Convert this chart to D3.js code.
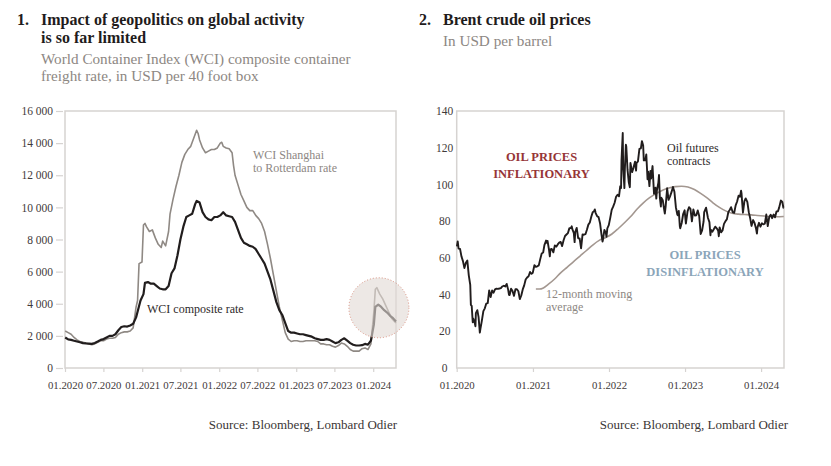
<!DOCTYPE html>
<html>
<head>
<meta charset="utf-8">
<script src="https://cdn.jsdelivr.net/npm/d3@7"></script>
<style>
  html, body { margin: 0; padding: 0; background: #ffffff; }
  svg { display: block; font-family: "Liberation Serif", "DejaVu Serif", serif; }
</style>
</head>
<body>
<svg id="chart" width="831" height="466"></svg>
<script>
// ---------------- DATA ----------------
const wciTicks = [0, 2000, 4000, 6000, 8000, 10000, 12000, 14000, 16000];
const wciDateTicks = ["2020-01-01","2020-07-01","2021-01-01","2021-07-01","2022-01-01","2022-07-01","2023-01-01","2023-07-01","2024-01-01"];
const wciDateLabels = ["01.2020","07.2020","01.2021","07.2021","01.2022","07.2022","01.2023","07.2023","01.2024"];

const wciComposite = [
["2020-01-02",1900],["2020-01-16",1780],["2020-01-30",1750],["2020-02-13",1700],["2020-02-27",1650],
["2020-03-12",1600],["2020-03-26",1550],["2020-04-09",1530],["2020-04-23",1520],["2020-05-07",1500],
["2020-05-21",1560],["2020-06-04",1650],["2020-06-18",1750],["2020-07-02",1800],["2020-07-16",1900],
["2020-07-30",2000],["2020-08-13",2000],["2020-08-27",2100],["2020-09-10",2350],["2020-09-24",2550],
["2020-10-08",2600],["2020-10-22",2580],["2020-11-05",2650],["2020-11-19",2750],["2020-12-03",3150],
["2020-12-10",3500],["2020-12-24",4200],["2021-01-07",4600],["2021-01-14",5300],["2021-01-28",5350],
["2021-02-11",5250],["2021-02-25",5250],["2021-03-11",5100],["2021-03-25",4950],["2021-04-08",4900],
["2021-04-22",4900],["2021-05-06",5100],["2021-05-20",5900],["2021-06-03",6200],["2021-06-17",7000],
["2021-07-01",8000],["2021-07-15",8800],["2021-07-29",9400],["2021-08-12",9500],["2021-08-26",9600],
["2021-09-09",10200],["2021-09-16",10400],["2021-09-30",10300],["2021-10-14",9700],["2021-10-28",9400],
["2021-11-11",9250],["2021-11-25",9200],["2021-12-09",9400],["2021-12-23",9400],["2022-01-06",9500],
["2022-01-20",9700],["2022-02-03",9500],["2022-02-17",9450],["2022-03-03",9400],["2022-03-17",9100],
["2022-03-31",8600],["2022-04-14",8100],["2022-04-28",7800],["2022-05-12",7700],["2022-05-26",7600],
["2022-06-09",7550],["2022-06-23",7400],["2022-07-07",7100],["2022-07-21",6800],["2022-08-04",6500],
["2022-08-18",6000],["2022-09-01",5500],["2022-09-15",4800],["2022-09-29",4100],["2022-10-13",3600],
["2022-10-27",3300],["2022-11-10",2800],["2022-11-24",2300],["2022-12-08",2200],["2022-12-22",2200],
["2023-01-05",2150],["2023-01-19",2100],["2023-02-02",2100],["2023-02-16",2050],["2023-03-02",2000],
["2023-03-16",1950],["2023-03-30",1850],["2023-04-13",1800],["2023-04-27",1750],["2023-05-11",1750],
["2023-05-25",1800],["2023-06-08",1750],["2023-06-22",1650],["2023-07-06",1550],["2023-07-20",1600],
["2023-08-03",1750],["2023-08-17",1850],["2023-08-31",1700],["2023-09-14",1550],["2023-09-28",1450],
["2023-10-12",1400],["2023-10-26",1400],["2023-11-09",1420],["2023-11-23",1500],["2023-12-07",1450],
["2023-12-21",1700],["2024-01-04",2700],["2024-01-11",3800],["2024-01-25",3950],["2024-02-08",3800],
["2024-02-22",3600],["2024-03-07",3450],["2024-03-21",3250],["2024-04-04",3100],["2024-04-18",2900]
];

const wciShanghai = [
["2020-01-02",2300],["2020-01-16",2200],["2020-01-30",2100],["2020-02-13",1900],["2020-02-27",1750],
["2020-03-12",1650],["2020-03-26",1600],["2020-04-09",1550],["2020-04-23",1500],["2020-05-07",1450],
["2020-05-21",1500],["2020-06-04",1600],["2020-06-18",1700],["2020-07-02",1700],["2020-07-16",1800],
["2020-07-30",1850],["2020-08-13",1850],["2020-08-27",1900],["2020-09-10",2100],["2020-09-24",2200],
["2020-10-08",2250],["2020-10-22",2250],["2020-11-05",2300],["2020-11-19",2500],["2020-12-03",3800],
["2020-12-10",4200],["2020-12-17",6500],["2020-12-31",6600],["2021-01-07",8900],["2021-01-14",9000],
["2021-01-21",8800],["2021-02-04",8500],["2021-02-18",8600],["2021-03-04",8100],["2021-03-18",7700],
["2021-04-01",7500],["2021-04-08",7900],["2021-04-22",7600],["2021-05-06",8500],["2021-05-13",9600],
["2021-05-27",10500],["2021-06-10",11300],["2021-06-24",12000],["2021-07-08",12800],["2021-07-22",13300],
["2021-08-05",13600],["2021-08-19",13800],["2021-09-02",14300],["2021-09-16",14800],["2021-09-23",14600],
["2021-09-30",14200],["2021-10-14",13700],["2021-10-28",13400],["2021-11-11",13500],["2021-11-25",13600],
["2021-12-09",13600],["2021-12-23",13700],["2022-01-06",14000],["2022-01-13",14050],["2022-01-20",13800],
["2022-02-03",13700],["2022-02-17",13650],["2022-03-03",13400],["2022-03-10",12600],["2022-03-17",12000],
["2022-03-31",11400],["2022-04-14",10800],["2022-04-28",10400],["2022-05-12",10000],["2022-05-26",9800],
["2022-06-09",9800],["2022-06-23",9500],["2022-07-07",9300],["2022-07-21",9000],["2022-08-04",8500],
["2022-08-18",7700],["2022-09-01",6800],["2022-09-15",5800],["2022-09-29",4800],["2022-10-13",3800],
["2022-10-27",3000],["2022-11-10",2200],["2022-11-24",1800],["2022-12-08",1650],["2022-12-22",1700],
["2023-01-05",1700],["2023-01-19",1650],["2023-02-02",1650],["2023-02-16",1700],["2023-03-02",1700],
["2023-03-16",1700],["2023-03-30",1700],["2023-04-13",1650],["2023-04-27",1500],["2023-05-11",1500],
["2023-05-25",1450],["2023-06-08",1450],["2023-06-22",1350],["2023-07-06",1300],["2023-07-20",1400],
["2023-08-03",1550],["2023-08-17",1500],["2023-08-31",1350],["2023-09-14",1150],["2023-09-28",1050],
["2023-10-12",1050],["2023-10-26",1050],["2023-11-09",1200],["2023-11-23",1250],["2023-12-07",1150],
["2023-12-21",1500],["2024-01-04",3500],["2024-01-11",4900],["2024-01-18",5000],["2024-02-01",4600],
["2024-02-15",4300],["2024-02-29",3900],["2024-03-14",3500],["2024-03-28",3100],["2024-04-11",2900],
["2024-04-18",2800]
];

const brentTicks = [0, 20, 40, 60, 80, 100, 120, 140];
const brentDateTicks = ["2020-01-01","2021-01-01","2022-01-01","2023-01-01","2024-01-01"];
const brentDateLabels = ["01.2020","01.2021","01.2022","01.2023","01.2024"];

const brentPrice = [
["2020-01-02",66.3],["2020-01-06",68.9],["2020-01-10",65.0],["2020-01-17",64.9],["2020-01-24",60.7],
["2020-01-31",58.2],["2020-02-07",54.5],["2020-02-14",57.3],["2020-02-21",58.5],["2020-02-28",50.5],
["2020-03-06",45.3],["2020-03-09",34.4],["2020-03-13",33.9],["2020-03-18",24.9],["2020-03-20",27.0],
["2020-03-27",24.9],["2020-03-31",22.7],["2020-04-02",29.9],["2020-04-09",31.5],["2020-04-15",27.7],
["2020-04-21",19.3],["2020-04-24",21.4],["2020-04-30",25.3],["2020-05-08",31.0],["2020-05-15",32.5],
["2020-05-22",35.1],["2020-05-29",35.3],["2020-06-05",42.3],["2020-06-12",38.7],["2020-06-19",42.2],
["2020-06-26",41.0],["2020-07-03",42.8],["2020-07-10",43.2],["2020-07-17",43.1],["2020-07-24",43.3],
["2020-07-31",43.5],["2020-08-07",44.4],["2020-08-14",44.8],["2020-08-21",44.4],["2020-08-28",45.8],
["2020-09-04",42.7],["2020-09-08",39.8],["2020-09-11",39.8],["2020-09-18",43.2],["2020-09-25",41.9],
["2020-10-02",39.3],["2020-10-09",42.9],["2020-10-16",42.9],["2020-10-23",41.8],["2020-10-30",37.5],
["2020-11-06",39.5],["2020-11-13",42.8],["2020-11-20",45.0],["2020-11-27",48.2],["2020-12-04",49.3],
["2020-12-11",50.0],["2020-12-18",52.3],["2020-12-24",51.3],["2020-12-31",51.8],
["2021-01-08",56.0],["2021-01-15",55.1],["2021-01-22",55.4],["2021-01-29",55.9],["2021-02-05",59.3],
["2021-02-12",62.4],["2021-02-19",62.9],["2021-02-25",66.9],["2021-03-05",69.4],["2021-03-08",68.2],
["2021-03-12",69.2],["2021-03-19",64.5],["2021-03-23",60.8],["2021-03-26",64.6],["2021-04-01",64.9],
["2021-04-09",63.0],["2021-04-16",66.8],["2021-04-23",66.1],["2021-04-30",67.3],["2021-05-07",68.3],
["2021-05-14",68.7],["2021-05-21",66.4],["2021-05-28",69.6],["2021-06-04",71.9],["2021-06-11",72.7],
["2021-06-18",73.5],["2021-06-25",76.2],["2021-07-02",76.2],["2021-07-06",77.2],["2021-07-09",75.6],
["2021-07-16",73.6],["2021-07-20",68.6],["2021-07-23",74.1],["2021-07-30",76.3],["2021-08-06",70.7],
["2021-08-13",70.6],["2021-08-20",65.2],["2021-08-27",72.7],["2021-09-03",72.6],["2021-09-10",72.9],
["2021-09-17",75.3],["2021-09-24",78.1],["2021-10-01",79.3],["2021-10-08",82.4],["2021-10-15",84.9],
["2021-10-22",85.5],["2021-10-25",86.4],["2021-10-29",84.4],["2021-11-05",82.7],["2021-11-12",82.2],
["2021-11-19",78.9],["2021-11-26",72.7],["2021-12-01",68.9],["2021-12-03",69.9],["2021-12-10",75.2],
["2021-12-17",73.5],["2021-12-20",71.5],["2021-12-24",76.1],["2021-12-31",77.8],
["2022-01-07",81.8],["2022-01-14",86.1],["2022-01-21",87.9],["2022-01-28",90.0],["2022-02-04",93.3],
["2022-02-11",94.4],["2022-02-18",93.5],["2022-02-24",99.1],["2022-02-28",98.0],["2022-03-02",112.9],
["2022-03-04",118.1],["2022-03-08",128.0],["2022-03-10",109.3],["2022-03-16",98.0],["2022-03-18",107.9],
["2022-03-23",121.6],["2022-03-25",120.7],["2022-03-31",107.9],["2022-04-06",101.1],["2022-04-11",98.5],
["2022-04-14",111.7],["2022-04-22",106.7],["2022-04-29",109.3],["2022-05-06",112.4],["2022-05-11",107.5],
["2022-05-13",111.6],["2022-05-20",112.6],["2022-05-27",119.4],["2022-06-03",119.7],["2022-06-08",123.6],
["2022-06-14",121.2],["2022-06-17",113.1],["2022-06-24",113.1],["2022-06-29",116.3],["2022-07-05",102.8],
["2022-07-08",107.0],["2022-07-14",99.1],["2022-07-19",107.4],["2022-07-22",103.2],["2022-07-29",110.0],
["2022-08-05",94.9],["2022-08-12",98.2],["2022-08-16",92.3],["2022-08-19",96.7],["2022-08-26",101.0],
["2022-08-29",105.1],["2022-09-02",93.0],["2022-09-07",88.0],["2022-09-09",92.8],["2022-09-16",91.4],
["2022-09-23",86.2],["2022-09-26",84.1],["2022-09-30",88.0],["2022-10-07",97.9],["2022-10-14",91.6],
["2022-10-21",93.5],["2022-10-28",95.8],["2022-11-04",98.6],["2022-11-11",96.0],["2022-11-18",87.6],
["2022-11-25",83.6],["2022-11-28",83.2],["2022-12-02",85.6],["2022-12-07",77.2],["2022-12-09",76.1],
["2022-12-16",79.0],["2022-12-23",83.9],["2022-12-30",85.9],
["2023-01-05",78.7],["2023-01-13",85.3],["2023-01-20",87.6],["2023-01-27",86.7],["2023-02-03",79.9],
["2023-02-10",86.4],["2023-02-17",83.0],["2023-02-24",83.2],["2023-03-03",85.8],["2023-03-10",82.8],
["2023-03-17",73.0],["2023-03-20",73.8],["2023-03-24",75.0],["2023-03-31",79.8],["2023-04-03",84.9],
["2023-04-12",87.3],["2023-04-21",81.7],["2023-04-28",79.5],["2023-05-03",72.3],["2023-05-05",75.3],
["2023-05-12",74.2],["2023-05-19",75.6],["2023-05-26",77.0],["2023-06-02",76.1],["2023-06-09",74.8],
["2023-06-12",71.8],["2023-06-16",76.6],["2023-06-23",73.9],["2023-06-30",74.9],["2023-07-07",78.5],
["2023-07-14",79.9],["2023-07-21",81.1],["2023-07-28",85.0],["2023-08-04",86.2],["2023-08-10",87.6],
["2023-08-18",84.8],["2023-08-25",84.5],["2023-09-01",88.6],["2023-09-08",90.7],["2023-09-15",93.9],
["2023-09-22",93.3],["2023-09-27",96.6],["2023-09-29",95.3],["2023-10-06",84.6],["2023-10-13",90.9],
["2023-10-19",92.4],["2023-10-27",90.5],["2023-11-03",84.9],["2023-11-10",81.4],["2023-11-16",77.4],
["2023-11-24",80.6],["2023-12-01",78.9],["2023-12-08",75.8],["2023-12-12",73.2],["2023-12-15",76.6],
["2023-12-22",79.1],["2023-12-29",77.0],
["2024-01-05",78.8],["2024-01-12",78.3],["2024-01-19",78.6],["2024-01-26",83.6],["2024-02-02",77.3],
["2024-02-09",82.2],["2024-02-16",83.5],["2024-02-23",81.6],["2024-03-01",83.6],["2024-03-08",82.1],
["2024-03-15",85.3],["2024-03-22",85.4],["2024-03-28",87.5],["2024-04-05",91.2],["2024-04-12",90.5],
["2024-04-17",87.3],["2024-04-19",87.3]
];

const brentMovingAvg = [
["2021-01-15",43.0],["2021-02-01",43.0],["2021-02-20",43.6],["2021-03-15",45.5],["2021-04-15",48.5],
["2021-05-15",52.0],["2021-06-15",55.0],["2021-07-15",58.0],["2021-08-15",61.0],["2021-09-15",64.0],
["2021-10-15",67.0],["2021-11-15",69.5],["2021-12-15",71.0],["2022-01-15",73.0],["2022-02-15",76.0],
["2022-03-15",79.0],["2022-04-15",82.5],["2022-05-15",86.5],["2022-06-15",90.0],["2022-07-15",92.8],
["2022-08-15",95.0],["2022-09-15",96.8],["2022-10-15",98.0],["2022-11-15",98.8],["2022-12-15",99.0],
["2023-01-15",98.6],["2023-02-15",97.2],["2023-03-15",95.3],["2023-04-15",92.8],["2023-05-15",90.0],
["2023-06-15",87.5],["2023-07-15",85.6],["2023-08-15",84.3],["2023-09-15",83.8],["2023-10-15",83.6],
["2023-11-15",83.4],["2023-12-15",83.1],["2024-01-15",82.8],["2024-02-15",82.5],["2024-03-15",82.4],
["2024-04-19",82.5]
];

// ---------------- DRAW ----------------
const svg = d3.select("#chart");
const parse = d3.timeParse("%Y-%m-%d");
const fmtSpace = d3.formatLocale({decimal: ".", thousands: "\u2009", grouping: [3], currency: ["", ""]}).format(",");
const fmtNum = v => fmtSpace(v).replace("\u2009", " ");

const TEXT = "#1f1c1c";
const GREY_TXT = "#8d8783";
const AXIS = "#d6d3d1";
const LABEL = "#3f3a3a";

function titleBlock(x, num, lines, subs) {
  const g = svg.append("g");
  g.append("text").attr("x", x).attr("y", 25).attr("font-size", 16).attr("font-weight", "bold")
    .attr("fill", TEXT).text(num);
  lines.forEach((t, i) => g.append("text").attr("x", x + 24).attr("y", 25 + i * 18)
    .attr("font-size", 16).attr("font-weight", "bold").attr("fill", TEXT).text(t));
  subs.forEach((s, i) => g.append("text").attr("x", x + 24).attr("y", s.y)
    .attr("font-size", 15.2).attr("fill", GREY_TXT).text(s.t));
}
titleBlock(17, "1.", ["Impact of geopolitics on global activity", "is so far limited"],
  [{t: "World Container Index (WCI) composite container", y: 64}, {t: "freight rate, in USD per 40 foot box", y: 81}]);
titleBlock(419, "2.", ["Brent crude oil prices"], [{t: "In USD per barrel", y: 46}]);

function panel(opts) {
  const {x0, x1, y0, y1, xDomain, yMax, yTicks, dTicks, dLabels, yAnchor, yLabelX} = opts;
  const x = d3.scaleTime().domain(xDomain.map(parse)).range([x0, x1]);
  const y = d3.scaleLinear().domain([0, yMax]).range([y1, y0]);
  const g = svg.append("g");
  // frame
  g.append("rect").attr("x", x0).attr("y", y0).attr("width", x1 - x0).attr("height", y1 - y0)
    .attr("fill", "none").attr("stroke", AXIS).attr("stroke-width", 1.5);
  // y axis
  const ya = g.append("g").attr("transform", `translate(${x0 - 2},0)`)
    .call(d3.axisLeft(y).tickValues(yTicks).tickSizeInner(opts.yTick).tickSizeOuter(0).tickPadding(opts.yPad)
      .tickFormat(opts.yFmt));
  ya.select(".domain").remove();
  ya.selectAll(".tick line").attr("stroke", AXIS).attr("stroke-width", 1.2);
  ya.selectAll(".tick text").attr("font-family", "Liberation Serif, serif").attr("font-size", 11.5)
    .attr("fill", LABEL).attr("text-anchor", yAnchor);
  if (yLabelX !== undefined) ya.selectAll(".tick text").attr("x", yLabelX);
  // x axis
  const xa = g.append("g").attr("transform", `translate(0,${y1})`)
    .call(d3.axisBottom(x).tickValues(dTicks.map(parse)).tickSizeInner(4).tickSizeOuter(0).tickPadding(9)
      .tickFormat((d, i) => dLabels[i]));
  xa.select(".domain").remove();
  xa.selectAll(".tick line").attr("stroke", AXIS).attr("stroke-width", 1.2);
  xa.selectAll(".tick text").attr("font-family", "Liberation Serif, serif").attr("font-size", 10.8)
    .attr("fill", LABEL);
  return {x, y, g};
}

// Left panel
const L = panel({x0: 65, x1: 396, y0: 111, y1: 368, xDomain: ["2020-01-01", "2024-04-18"], yMax: 16000,
  yTicks: wciTicks, dTicks: wciDateTicks, dLabels: wciDateLabels, yAnchor: "end", yTick: 7, yPad: 3, yFmt: fmtNum});
const lineL = d3.line().x(d => L.x(parse(d[0]))).y(d => L.y(d[1]));
L.g.append("path").datum(wciShanghai).attr("d", lineL).attr("fill", "none")
  .attr("stroke", "#8f8984").attr("stroke-width", 1.6).attr("stroke-linejoin", "round");
L.g.append("path").datum(wciComposite).attr("d", lineL).attr("fill", "none")
  .attr("stroke", "#211d1d").attr("stroke-width", 2.2).attr("stroke-linejoin", "round");
// highlight circle
L.g.append("circle").attr("cx", L.x(parse("2024-01-28"))).attr("cy", L.y(3750)).attr("r", 30)
  .attr("fill", "rgba(226,218,213,0.62)").attr("stroke", "#d9907f").attr("stroke-width", 1)
  .attr("stroke-dasharray", "1,2");
// annotations
L.g.append("text").attr("x", 253).attr("y", 159).attr("font-size", 12).attr("fill", GREY_TXT).text("WCI Shanghai");
L.g.append("text").attr("x", 253).attr("y", 172).attr("font-size", 12).attr("fill", GREY_TXT).text("to Rotterdam rate");
L.g.append("text").attr("x", 147).attr("y", 313).attr("font-size", 12).attr("fill", "#2e2a2a").text("WCI composite rate");
svg.append("text").attr("x", 397).attr("y", 429).attr("text-anchor", "end").attr("font-size", 13)
  .attr("fill", "#3a3535").text("Source: Bloomberg, Lombard Odier");

// Right panel
const R = panel({x0: 456.7, x1: 784, y0: 111, y1: 368, xDomain: ["2020-01-01", "2024-04-20"], yMax: 140,
  yTicks: brentTicks, dTicks: brentDateTicks, dLabels: brentDateLabels, yAnchor: "middle", yTick: 0, yPad: 0,
  yFmt: d3.format("d"), yLabelX: -10});
const lineR = d3.line().x(d => R.x(parse(d[0]))).y(d => R.y(d[1]));
R.g.append("path").datum(brentMovingAvg).attr("d", lineR.curve(d3.curveMonotoneX)).attr("fill", "none")
  .attr("stroke", "#a39790").attr("stroke-width", 1.6);
R.g.append("path").datum(brentPrice).attr("d", d3.line().x(d => R.x(parse(d[0]))).y(d => R.y(d[1])))
  .attr("fill", "none").attr("stroke", "#211d1d").attr("stroke-width", 1.9).attr("stroke-linejoin", "round");

const red = "#963537", blue = "#8ba5b9";
[["OIL PRICES", 161], ["INFLATIONARY", 177.5]].forEach(([t, yy]) =>
  R.g.append("text").attr("x", 541.5).attr("y", yy).attr("text-anchor", "middle").attr("font-size", 12.5)
    .attr("font-weight", "bold").attr("fill", red).text(t));
[["OIL PRICES", 259], ["DISINFLATIONARY", 275.5]].forEach(([t, yy]) =>
  R.g.append("text").attr("x", 705).attr("y", yy).attr("text-anchor", "middle").attr("font-size", 12.5)
    .attr("font-weight", "bold").attr("fill", blue).text(t));
R.g.append("text").attr("x", 667).attr("y", 152).attr("font-size", 12).attr("fill", "#2e2a2a").text("Oil futures");
R.g.append("text").attr("x", 667).attr("y", 164.5).attr("font-size", 12).attr("fill", "#2e2a2a").text("contracts");
R.g.append("text").attr("x", 546).attr("y", 298).attr("font-size", 12).attr("fill", GREY_TXT).text("12-month moving");
R.g.append("text").attr("x", 546).attr("y", 311).attr("font-size", 12).attr("fill", GREY_TXT).text("average");
svg.append("text").attr("x", 788).attr("y", 429).attr("text-anchor", "end").attr("font-size", 13)
  .attr("fill", "#3a3535").text("Source: Bloomberg, Lombard Odier");
</script>
</body>
</html>
